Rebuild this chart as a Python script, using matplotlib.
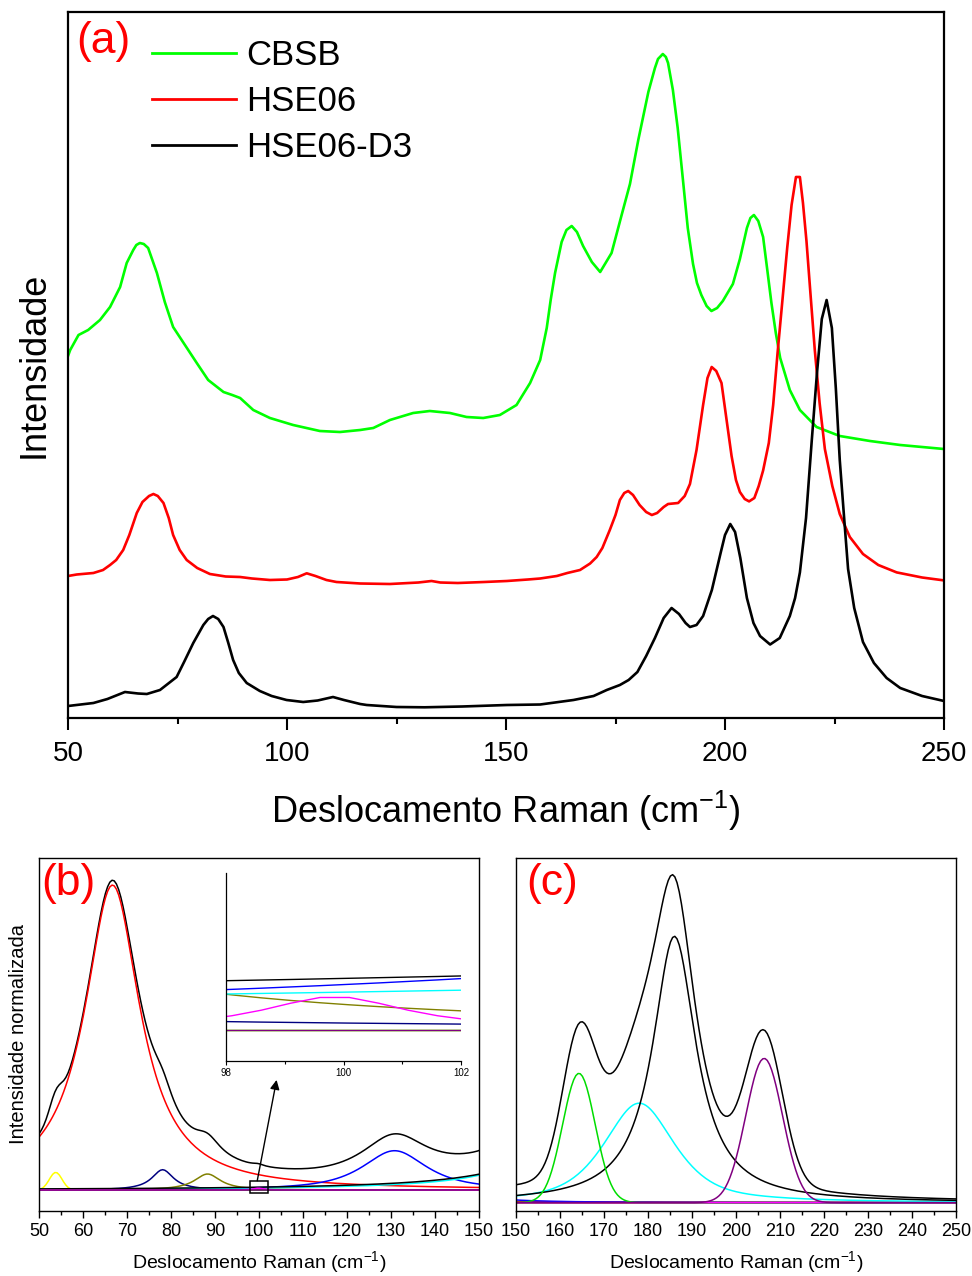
import numpy as np
import matplotlib
matplotlib.use('Agg')
import matplotlib.pyplot as plt
from matplotlib.ticker import MultipleLocator
from matplotlib.patches import Rectangle

plt.rcParams['font.family'] = ['Liberation Sans', 'DejaVu Sans']
plt.rcParams['mathtext.default'] = 'regular'

# ---------------- Panel (a) data (arbitrary intensity units) ----------------
cbsb_x = [50, 50.5, 52.4, 54.6, 57.3, 59.6, 61.9, 63.4, 64.9, 65.6, 66.4, 67.3, 68.3, 70.3, 72.1,
          74, 76.7, 79.4, 82, 85.5, 87.5, 89.3, 92.3, 96.1, 101.4, 107.5, 112.1, 116.7, 119.7,
          123.5, 128.8, 132.6, 137.2, 141, 144.8, 148.6, 152.4, 155.5, 157.8, 159.3, 160.2, 161.2,
          162.7, 163.8, 165, 166.2, 167.6, 169.6, 171.5, 174.1, 176.4, 178.3, 180.2, 182.5, 184,
          184.7, 185.8, 186.5, 187, 188.1, 189.2, 190.4, 191.5, 192.7, 193.6, 194.6, 195.8, 196.9,
          198.2, 199.5, 201.8, 203.4, 205, 205.8, 206.6, 207.6, 208.7, 209.6, 210.6, 211.6, 212.6,
          214.8, 217.1, 220.9, 226.2, 233.1, 240, 250]
cbsb_y = [362, 368, 383, 388, 398, 411, 431, 455, 468, 473, 475, 474, 470, 445, 416, 391, 373, 355,
          338, 326, 323, 320, 308, 300, 293, 287, 286, 288, 290, 298, 305, 307, 305, 301, 300, 303,
          313, 335, 358, 390, 418, 445, 476, 488, 492, 486, 472, 456, 446, 465, 503, 534, 578, 626,
          650, 659, 664, 661, 655, 628, 590, 538, 490, 454, 435, 423, 412, 407, 410, 417, 434, 459,
          490, 500, 503, 497, 481, 450, 415, 385, 360, 328, 308, 291, 282, 277, 273, 269]

hse_x = [50, 52, 55.8, 58, 59.6, 61, 62.6, 64, 65.7, 67, 68.5, 69.5, 70.5, 71.8, 73, 74, 75.5, 77.1,
         79.5, 82.4, 86, 89.3, 92, 96.1, 100, 102.5, 104.5, 106.5, 109, 111.3, 116.7, 123.5, 130,
         133, 135, 139, 145, 150.2, 155, 157.8, 161.6, 164, 166.9, 169.2, 170.7, 172, 173.7, 175,
         176, 177, 177.9, 179, 180.5, 182, 183.3, 184.5, 186, 187, 189.3, 190.8, 192, 193.5, 195,
         196, 196.96, 198, 199.2, 200.3, 201.5, 202.5, 203.4, 204.5, 205.5, 206.7, 207.7, 208.7,
         210, 211, 212, 213.2, 214.2, 215.2, 216.2, 217.1, 217.8, 218.6, 219.5, 220.5, 221.6,
         222.8, 224.5, 226.2, 228.5, 231.5, 235, 239.2, 245, 250]
hse_y = [142, 143.5, 145, 148, 153, 158, 168, 183, 205, 216, 222, 224, 222, 215, 200, 183, 168, 158,
         150, 144, 141.5, 141, 139.5, 138, 138.5, 141, 144.7, 142, 138, 136, 134.5, 134, 135.5,
         137, 135.5, 135, 136, 137, 138.5, 139.5, 142, 145, 148, 154.5, 161, 170, 188, 203, 218,
         225, 227, 223, 213, 206, 203, 205, 211, 214, 215, 222, 234, 268, 313, 340, 351, 347, 335,
         300, 262, 238, 226, 219, 216.6, 220, 232, 247.5, 275, 313, 365, 422, 470, 513, 541, 541,
         515, 477, 425, 368, 315, 269, 232, 204, 181, 164, 153, 145.6, 140.5, 137.6]

d3_x = [50, 55.8, 59, 63, 66, 68, 71, 74.8, 76.5, 78.6, 80.9, 82, 83.1, 84.3, 85.5, 86.6, 87.7, 89,
        90.8, 93.8, 96.5, 99.9, 103.7, 107, 110.5, 113, 116.7, 118.2, 125, 131.4, 140, 150.2, 157.8,
        165.4, 170, 173, 176, 178, 180, 182, 184, 186, 187.8, 189.5, 191, 192, 193.5, 195, 197,
        199, 200, 201.2, 202.3, 203.5, 205, 206.5, 208, 210.3, 212.5, 214.8, 216, 217.1, 218.5,
        219.8, 221, 222.1, 223.2, 224.4, 225.3, 226.2, 227.2, 228.1, 229.5, 231.5, 234, 236.9,
        240, 245, 250]
d3_y = [12, 15, 19, 26, 24.5, 24, 28, 41, 56, 75, 93, 99, 102, 99, 91, 75, 58, 45, 35, 27, 22, 18,
        16, 17.5, 21, 18, 14, 13, 11, 10.7, 11.5, 13, 13.5, 18, 22, 28, 33, 38, 46, 62, 80, 100,
        110, 104, 95, 91, 93, 102, 128, 165, 183, 194, 186, 160, 120, 95, 82, 73.5, 80, 102, 120,
        145.6, 200, 277, 345, 399, 418, 390, 330, 258, 200, 149, 110, 76, 55, 40, 30, 22, 17]

series_labels = ['CBSB', 'HSE06', 'HSE06-D3']
series_colors = ['#00ff00', '#ff0000', '#000000']

# ---------------- Panels (b),(c): fitted peak components ----------------
# pseudo-Voigt components: centre (cm-1), amplitude (normalised), FWHM (cm-1), Lorentz fraction
comp_colors  = ['#ff0000', '#ffff00', '#000080', '#808000', '#0000ff', '#00ffff', '#000000',
                '#00dd00', '#ff00ff', '#800080']
comp_centers = [66.7, 53.8, 78.1, 88.3, 130.8, 178.0, 186.0, 164.3, 99.85, 206.4]
comp_amps    = [0.432, 0.025, 0.0288, 0.0227, 0.0557, 0.31, 0.83, 0.403, 0.0026, 0.4495]
comp_fwhm    = [15.3, 3.4, 6.0, 7.25, 17.5, 19.0, 12.0, 8.7, 3.0, 9.8]
comp_eta     = [1.0, 0.0, 1.0, 1.0, 0.85, 0.65, 1.0, 0.0, 1.0, 0.0]

wn = np.arange(49.6, 250.61, 0.5)


def pvoigt(x, c, a, w, eta):
    d = (x - c) / (w / 2.0)
    lor = 1.0 / (1.0 + d ** 2)
    gau = np.exp(-np.log(2) * d ** 2)
    return a * (eta * lor + (1 - eta) * gau)


comps = [pvoigt(wn, c, a, w, e) for c, a, w, e in
         zip(comp_centers, comp_amps, comp_fwhm, comp_eta)]
envelope = np.sum(comps, axis=0)

# ---------------- Figure ----------------
W, H = 972, 1276
fig = plt.figure(figsize=(W / 100, H / 100), dpi=100)


def box(l, t, r, b):
    return [l / W, 1 - b / H, (r - l) / W, (b - t) / H]


axa = fig.add_axes(box(68, 12, 944, 718))
for x, y, c, lab in zip([cbsb_x, hse_x, d3_x], [cbsb_y, hse_y, d3_y], series_colors, series_labels):
    axa.plot(x, y, color=c, lw=1.9, label=lab)
axa.set_xlim(50, 250)
axa.set_ylim(0, 706)
axa.set_yticks([])
axa.xaxis.set_major_locator(MultipleLocator(50))
axa.xaxis.set_minor_locator(MultipleLocator(25))
axa.tick_params(axis='x', which='major', direction='out', length=8.5, width=1.5,
                labelsize=20, pad=8)
axa.tick_params(axis='x', which='minor', direction='out', length=4, width=1.5)
for s in axa.spines.values():
    s.set_linewidth(1.6)
axa.set_xlabel(r'Deslocamento Raman (cm$^{-1}$)', fontsize=26, labelpad=16)
axa.set_ylabel('Intensidade', fontsize=26, labelpad=12)
axa.text(0.009, 0.958, '(a)', transform=axa.transAxes, color='#ff0000', fontsize=32,
         ha='left', va='center')
leg = axa.legend(loc='upper left', bbox_to_anchor=(0.0959, 0.962), frameon=False,
                 fontsize=25, handlelength=2.42, handletextpad=0.3, labelspacing=0.38,
                 borderpad=0, borderaxespad=0)
for h in leg.get_lines():
    h.set_linewidth(2.0)

# panel (b)
axb = fig.add_axes(box(39, 858, 479, 1211))
# panel (c)
axc = fig.add_axes(box(516, 858, 956, 1211))

for ax in (axb, axc):
    ax.plot(wn, envelope, color='k', lw=1.1)
    for yv, c in zip(comps, comp_colors):
        ax.plot(wn, yv, color=c, lw=1.1)
    ax.set_yticks([])
    ax.xaxis.set_major_locator(MultipleLocator(10))
    ax.xaxis.set_minor_locator(MultipleLocator(5))
    ax.tick_params(axis='x', which='major', direction='out', length=5, width=1.0,
                   labelsize=13, pad=4)
    ax.tick_params(axis='x', which='minor', direction='out', length=3, width=1.0)
    for s in ax.spines.values():
        s.set_linewidth(1.0)
    ax.set_xlabel(r'Deslocamento Raman (cm$^{-1}$)', fontsize=14, labelpad=6)

axb.set_xlim(50, 150)
axb.set_ylim(-0.0297, 0.4703)
axc.set_xlim(150, 250)
axc.set_ylim(-0.0259, 1.0738)
axb.set_ylabel('Intensidade normalizada', fontsize=14.5, labelpad=8)
axb.text(0.006, 0.928, '(b)', transform=axb.transAxes, color='#ff0000', fontsize=32,
         ha='left', va='center')
axc.text(0.024, 0.928, '(c)', transform=axc.transAxes, color='#ff0000', fontsize=32,
         ha='left', va='center')

# zoom rectangle and arrow in (b)
axb.add_patch(Rectangle((98, -0.0047), 4, 0.0179, fill=False, ec='k', lw=1.1, zorder=5))
axb.annotate('', xy=(104.0, 0.156), xytext=(99.6, 0.0132),
             arrowprops=dict(arrowstyle='-|>', color='k', lw=1.0, mutation_scale=14,
                             shrinkA=0, shrinkB=0), zorder=6)

# inset
axi = fig.add_axes(box(226, 873, 461, 1061))
for yv, c in zip(comps, comp_colors):
    axi.plot(wn, yv, color=c, lw=1.0)
axi.plot(wn, envelope, color='k', lw=1.0)
axi.set_xlim(98, 102)
axi.set_ylim(-0.00244, 0.01227)
axi.set_yticks([])
axi.set_xticks([98, 100, 102])
axi.xaxis.set_minor_locator(MultipleLocator(1))
axi.tick_params(axis='x', which='major', direction='out', length=3, width=0.8,
                labelsize=7, pad=2)
axi.tick_params(axis='x', which='minor', direction='out', length=2, width=0.8)
axi.spines['top'].set_visible(False)
axi.spines['right'].set_visible(False)
axi.spines['left'].set_linewidth(0.9)
axi.spines['bottom'].set_linewidth(0.9)
axi.patch.set_alpha(0)

fig.savefig('out.png', dpi=100, facecolor='white')
